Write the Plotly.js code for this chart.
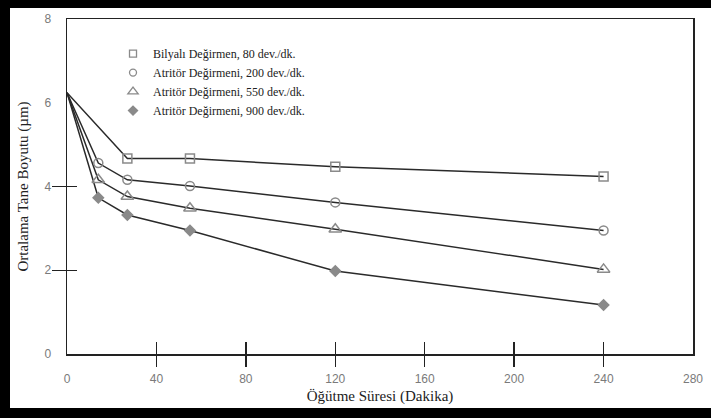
<!DOCTYPE html>
<html>
<head>
<meta charset="utf-8">
<script src="https://cdn.plot.ly/plotly-3.0.1.min.js"></script>
<style>
  html, body { margin: 0; padding: 0; background: #000; width: 711px; height: 418px; overflow: hidden; }
  #chart { position: absolute; left: 10px; top: 8px; width: 701px; height: 400px; background: #fff; }
</style>
</head>
<body>
<div id="chart"></div>
<script>
// Öğütme süresi (dakika)
const timesBall = [0, 27, 55, 120, 240];
const timesAttr = [0, 14, 27, 55, 120, 240];
// Ortalama tane boyutu (µm)
const sizeBall80 = [6.24, 4.67, 4.67, 4.47, 4.24];
const sizeAttr200 = [6.24, 4.56, 4.16, 4.01, 3.62, 2.95];
const sizeAttr550 = [6.24, 4.16, 3.76, 3.48, 2.98, 2.02];
const sizeAttr900 = [6.24, 3.73, 3.32, 2.95, 1.98, 1.17];

const seriesNames = [
  'Bilyalı Değirmen, 80 dev./dk.',
  'Atritör Değirmeni, 200 dev./dk.',
  'Atritör Değirmeni, 550 dev./dk.',
  'Atritör Değirmeni, 900 dev./dk.'
];
const xTickVals = [0, 40, 80, 120, 160, 200, 240, 280];
const xTickText = ['0', '40', '80', '120', '160', '200', '240', '280'];
const xMarkVals = [40, 80, 120, 160, 200, 240];
const yTickVals = [0, 2, 4, 6, 8];
const yTickText = ['0', '2', '4', '6', '8'];
const yMarkVals = [2, 4];

const series = [
  {x: timesBall, y: sizeBall80, symbol: 'square-open', size: 9, legSize: 7},
  {x: timesAttr, y: sizeAttr200, symbol: 'circle-open', size: 9, legSize: 7},
  {x: timesAttr, y: sizeAttr550, symbol: 'triangle-up-open', size: 11, legSize: 9},
  {x: timesAttr, y: sizeAttr900, symbol: 'diamond', size: 8, legSize: 7}
];

const markerColor = '#8a8a8a';
const traces = [];
series.forEach((s) => {
  traces.push({
    x: s.x, y: s.y, mode: 'lines', showlegend: false, hoverinfo: 'skip',
    line: {color: '#2a2a2a', width: 1.5}
  });
});
series.forEach((s) => {
  traces.push({
    x: s.x.slice(1), y: s.y.slice(1), mode: 'markers', showlegend: false,
    marker: {symbol: s.symbol, size: s.size, color: markerColor,
             line: {color: markerColor, width: 1.5}}
  });
});
// legend entries (small symbols, as in the original key)
series.forEach((s, i) => {
  traces.push({
    x: [null], y: [null], mode: 'markers', name: seriesNames[i],
    marker: {symbol: s.symbol, size: s.legSize, color: markerColor,
             line: {color: markerColor, width: 1.3}}
  });
});

const tickFont = {family: 'Liberation Sans, Arial, sans-serif', size: 12, color: '#7a7a7a'};
const titleFont = {family: 'Liberation Serif, Times New Roman, serif', size: 15, color: '#222'};

const layout = {
  width: 701, height: 400,
  margin: {l: 57, r: 18, t: 11, b: 54},
  paper_bgcolor: '#fff', plot_bgcolor: '#fff',
  showlegend: true,
  legend: {
    x: 0.0735, y: 0.94, xanchor: 'left', yanchor: 'top',
    bgcolor: 'rgba(0,0,0,0)',
    font: {family: 'Liberation Serif, Times New Roman, serif', size: 12, color: '#222'},
    traceorder: 'normal'
  },
  xaxis: {
    range: [0, 280], tickmode: 'array', tickvals: xTickVals, ticktext: xTickText,
    ticks: '', ticklabelstandoff: 13, tickfont: tickFont,
    showline: true, linecolor: '#222', linewidth: 1.5, mirror: true,
    showgrid: false, zeroline: false,
    title: {text: 'Öğütme Süresi (Dakika)', font: titleFont, standoff: 5}
  },
  xaxis2: {
    overlaying: 'x', matches: 'x', range: [0, 280], tickmode: 'array', tickvals: xMarkVals,
    ticks: 'outside', ticklen: 12, tickwidth: 1.5, tickcolor: '#222',
    showticklabels: false, showline: false, showgrid: false, zeroline: false
  },
  xaxis3: {
    overlaying: 'x', matches: 'x', range: [0, 280], tickmode: 'array', tickvals: xMarkVals,
    ticks: 'inside', ticklen: 12, tickwidth: 1.5, tickcolor: '#222',
    showticklabels: false, showline: false, showgrid: false, zeroline: false
  },
  yaxis: {
    range: [0, 8], tickmode: 'array', tickvals: yTickVals, ticktext: yTickText,
    ticks: '', ticklabelstandoff: 12, tickfont: tickFont,
    showline: true, linecolor: '#222', linewidth: 1.5, mirror: true,
    showgrid: false, zeroline: false,
    title: {text: 'Ortalama Tane Boyutu (µm)', font: titleFont, standoff: 12}
  },
  yaxis2: {
    overlaying: 'y', matches: 'y', range: [0, 8], tickmode: 'array', tickvals: yMarkVals,
    ticks: 'outside', ticklen: 14, tickwidth: 1.5, tickcolor: '#222',
    showticklabels: false, showline: false, showgrid: false, zeroline: false
  },
  yaxis3: {
    overlaying: 'y', matches: 'y', range: [0, 8], tickmode: 'array', tickvals: yMarkVals,
    ticks: 'inside', ticklen: 10, tickwidth: 1.5, tickcolor: '#222',
    showticklabels: false, showline: false, showgrid: false, zeroline: false
  }
};

// invisible traces that activate the overlay tick axes
traces.push({x: [null], y: [null], xaxis: 'x2', yaxis: 'y2', showlegend: false, hoverinfo: 'skip', mode: 'lines'});
traces.push({x: [null], y: [null], xaxis: 'x3', yaxis: 'y3', showlegend: false, hoverinfo: 'skip', mode: 'lines'});

Plotly.newPlot('chart', traces, layout, {displayModeBar: false, staticPlot: true});
</script>
</body>
</html>
